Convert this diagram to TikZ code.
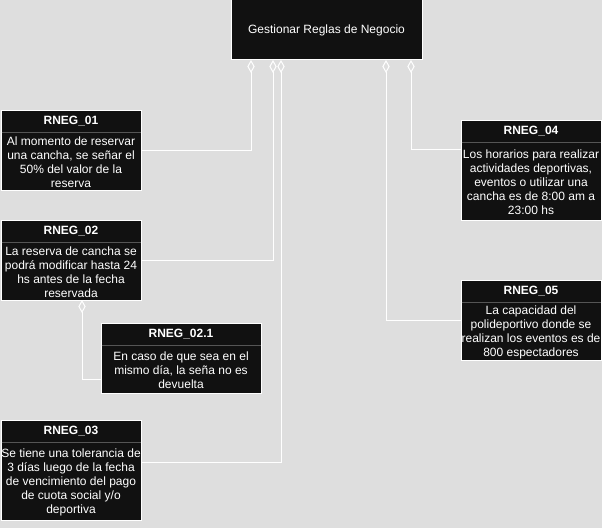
\documentclass[tikz,border=0pt]{standalone}
\usepackage{fontspec}
\setmainfont{Liberation Sans}
\usetikzlibrary{calc,positioning,arrows.meta}
\definecolor{fondo}{RGB}{222,222,222}
\definecolor{relleno}{RGB}{17,17,17}
\definecolor{divisor}{RGB}{85,85,85}
\tikzset{
  caja/.style={draw=white, line width=0.75pt, fill=relleno, inner sep=0pt, outer sep=0pt},
  titulo/.style={text=white, font=\bfseries\fontsize{9}{10.5}\selectfont, inner sep=0pt},
  cuerpo/.style={text=white, font=\fontsize{9}{10.5}\selectfont, align=center, inner sep=0pt},
  conector/.style={draw=white, line width=0.75pt, {Diamond[open,length=9.75pt,width=5.5pt]}-},
}
% regla: nombre, x, y, ancho, alto, titulo, texto
\newcommand{\regla}[7]{%
  \node[caja, anchor=north west, minimum width={0.75pt*#4}, minimum height={0.75pt*#5}] (#1) at (#2,#3) {};
  \node[titulo] (#1-t) at ($(#1.north)+(0,11)$) {#6};
  \draw[divisor, line width=0.75pt] ($(#1.north west)+(0.5,22)$) -- ($(#1.north east)+(-0.5,22)$);
  \node[cuerpo] (#1-c) at ($(#1.center)+(0,12)$) {#7};
}

\begin{document}
\begin{tikzpicture}[x=0.75pt, y=-0.75pt]
	%%%%% START %%%%%
	
	\fill[fondo] (0,0) rectangle (602,528);
	\useasboundingbox (0,0) rectangle (602,528);
	
	\node[caja, anchor=north west, minimum width=143.25pt, minimum height=45pt, text=white,
	      font=\fontsize{9}{10.5}\selectfont] (gestion) at (231,0) {Gestionar Reglas de Negocio};
	
	\regla{r01}{1}{110}{140}{80}{RNEG\_01}{Al momento de reservar\\una cancha, se señar el\\50\% del valor de la\\reserva}
	\regla{r02}{1}{220}{140}{80}{RNEG\_02}{La reserva de cancha se\\podrá modificar hasta 24\\hs antes de la fecha\\reservada}
	\regla{r021}{101}{323}{160}{70}{RNEG\_02.1}{En caso de que sea en el\\mismo día, la seña no es\\devuelta}
	\regla{r03}{1}{420}{140}{100}{RNEG\_03}{Se tiene una tolerancia de\\3 días luego de la fecha\\de vencimiento del pago\\de cuota social y/o\\deportiva}
	\regla{r04}{461}{120}{140}{100}{RNEG\_04}{Los horarios para realizar\\actividades deportivas,\\eventos o utilizar una\\cancha es de 8:00 am a\\23:00 hs}
	\regla{r05}{461}{280}{140}{80}{RNEG\_05}{La capacidad del\\polideportivo donde se\\realizan los eventos es de\\800 espectadores}
	
	% conectores desde la caja principal
	\draw[conector] ($(gestion.south west)+(20,0)$) |- (r01.east);
	\draw[conector] ($(gestion.south west)+(42,0)$) |- (r02.east);
	\draw[conector] ($(gestion.south west)+(50,0)$) |- ($(r03.east)+(0,-8)$);
	\draw[conector] ($(gestion.south west)+(155,0)$) |- (r05.west);
	\draw[conector] ($(gestion.south west)+(180,0)$) |- ($(r04.west)+(0,-21)$);
	
	\draw[conector] ($(r02.south)+(11,0)$) |- ($(r021.west)+(0,21)$);
	
	%%%%% END %%%%%
\end{tikzpicture}
\end{document}
